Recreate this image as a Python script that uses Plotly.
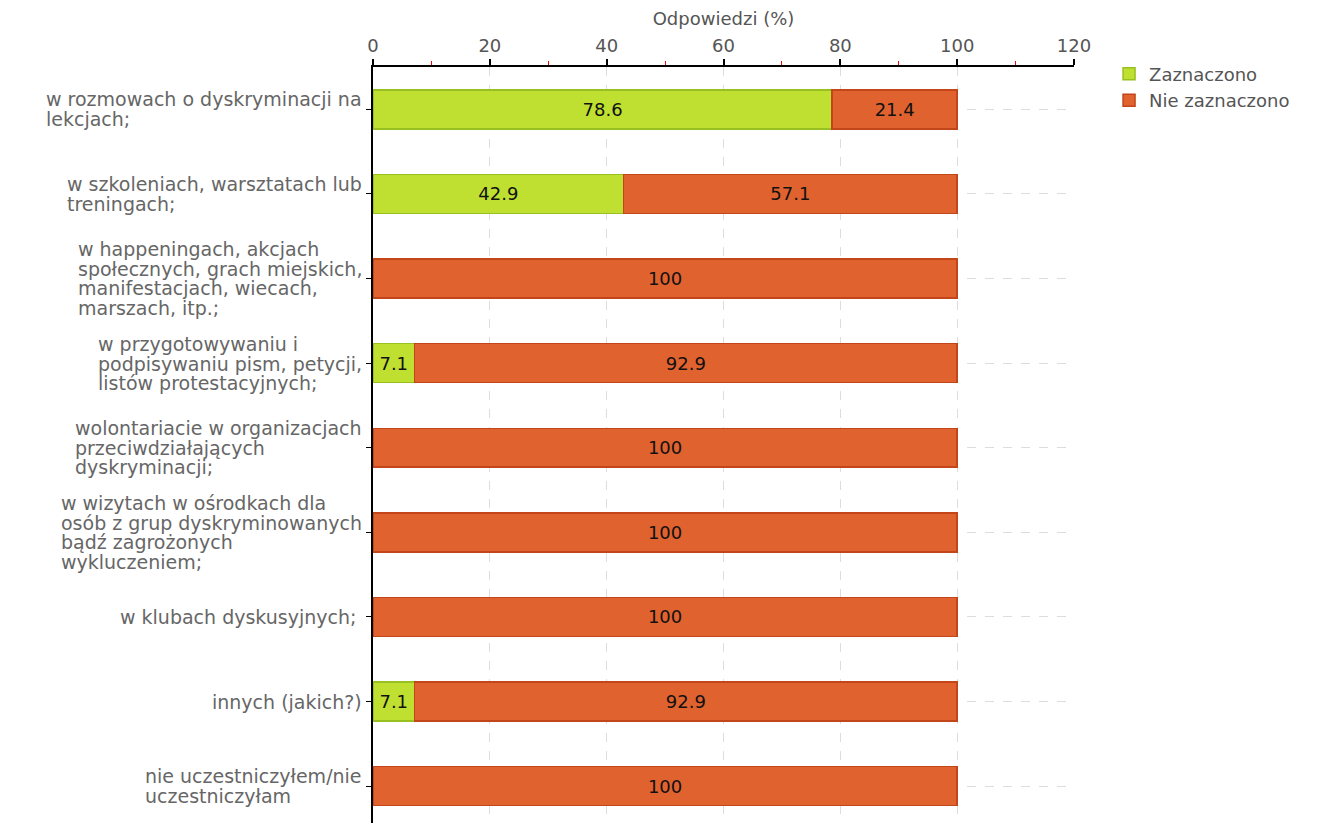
import plotly.graph_objects as go

categories = [
    "w rozmowach o dyskryminacji na<br>lekcjach;",
    "w szkoleniach, warsztatach lub<br>treningach;",
    "w happeningach, akcjach<br>społecznych, grach miejskich,<br>manifestacjach, wiecach,<br>marszach, itp.;",
    "w przygotowywaniu i<br>podpisywaniu pism, petycji,<br>listów protestacyjnych;",
    "wolontariacie w organizacjach<br>przeciwdziałających<br>dyskryminacji;",
    "w wizytach w ośrodkach dla<br>osób z grup dyskryminowanych<br>bądź zagrożonych<br>wykluczeniem;",
    "w klubach dyskusyjnych; ",
    "innych (jakich?)",
    "nie uczestniczyłem/nie<br>uczestniczyłam",
]
zaznaczono = [78.6, 42.9, None, 7.1, None, None, None, 7.1, None]
nie_zaznaczono = [21.4, 57.1, 100, 92.9, 100, 100, 100, 92.9, 100]
series_names = ["Zaznaczono", "Nie zaznaczono"]
tick_vals = [0, 20, 40, 60, 80, 100, 120]

FONT = "DejaVu Sans"
FS = 18
ypos = list(range(len(categories)))

fig = go.Figure()
fig.add_trace(go.Bar(
    name=series_names[0], y=ypos, x=zaznaczono, orientation="h",
    marker=dict(color="#bfe030", line=dict(color="#98c020", width=1.5)),
    text=[("" if v is None else f"{v:g}") for v in zaznaczono],
    textposition="inside", insidetextanchor="middle", textangle=0,
    textfont=dict(family=FONT, size=FS, color="#111"),
    constraintext="none", width=0.46, hoverinfo="x+name",
))
fig.add_trace(go.Bar(
    name=series_names[1], y=ypos, x=nie_zaznaczono, orientation="h",
    marker=dict(color="#e0622f", line=dict(color="#c2461a", width=1.5)),
    text=[f"{v:g}" for v in nie_zaznaczono],
    textposition="inside", insidetextanchor="middle", textangle=0,
    textfont=dict(family=FONT, size=FS, color="#111"),
    constraintext="none", width=0.46, hoverinfo="x+name",
))

# category labels: left-aligned blocks, right edge next to the axis, tight line spacing
for i, c in enumerate(categories):
    lines = c.split("<br>")
    txt = "<br>".join(f'<span style="font-size:19px">{ln}</span>' for ln in lines)
    fig.add_annotation(
        x=0, xref="paper", y=i, yref="y", text=txt, showarrow=False,
        xanchor="right", yanchor="middle", align="left", xshift=-9,
        font=dict(family=FONT, size=15, color="#666"),
    )

fig.update_layout(
    width=1318, height=823,
    barmode="stack", bargap=0.54,
    plot_bgcolor="white", paper_bgcolor="white",
    margin=dict(l=365, r=252, t=59, b=0),
    font=dict(family=FONT, size=FS, color="#555"),
    legend=dict(x=1.05, y=1.015, xanchor="left", yanchor="top",
                traceorder="normal",
                font=dict(family=FONT, size=FS, color="#555"),
                itemwidth=30, tracegroupgap=0, bgcolor="rgba(0,0,0,0)"),
    xaxis=dict(
        side="top", range=[0, 120], tickvals=tick_vals,
        title=dict(text="Odpowiedzi (%)", font=dict(family=FONT, size=FS, color="#555"), standoff=6),
        showline=True, linecolor="black", linewidth=1.5,
        ticks="outside", ticklen=6, tickcolor="black", tickwidth=1.5,
        tickfont=dict(family=FONT, size=FS, color="#555"),
        showgrid=True, gridcolor="#dddddd", griddash="dash", gridwidth=1,
        zeroline=False,
        minor=dict(dtick=10, ticks="outside", ticklen=4, tickcolor="red", tickwidth=1, showgrid=False),
    ),
    yaxis=dict(
        range=[8.53, -0.5], tickvals=ypos, showticklabels=False,
        showline=True, linecolor="black", linewidth=1.5,
        ticks="outside", ticklen=5, tickcolor="black",
        showgrid=True, gridcolor="#dddddd", griddash="dash", gridwidth=1,
        zeroline=False,
    ),
)

fig.write_html("out.html")
